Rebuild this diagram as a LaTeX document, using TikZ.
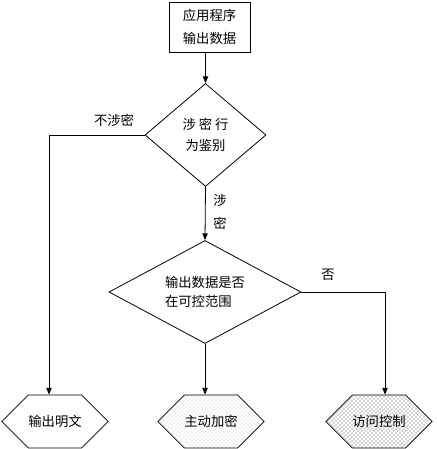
\documentclass[tikz,border=0pt]{standalone}
\usepackage{fontspec}
\setmainfont{Noto Sans CJK SC}
\usetikzlibrary{shapes.geometric,shapes.symbols,patterns,arrows.meta}
\begin{document}
\begin{tikzpicture}[x=0.75pt,y=-0.75pt,
  every node/.style={font=\fontsize{10}{14}\selectfont},
  linie/.style={line width=0.6pt},
  pfeil/.style={linie,-{Triangle[width=4pt,length=5pt]}},
  kasten/.style={draw,linie,minimum width=60.75pt,minimum height=37.5pt,align=center,inner sep=0pt},
  raute/.style={draw,linie,diamond,inner sep=0pt,align=left,minimum height=77.25pt},
  sechseck/.style={draw,linie,signal,signal to=east and west,signal pointer angle=90,
    minimum width=79.5pt,minimum height=39.75pt,inner sep=0pt}]
\useasboundingbox (0,0) rectangle (436,449);

%Knoten
\node[kasten] (prog) at (209.5,27) {应用程序\\[3pt]输出数据};
\node[raute,minimum width=90.75pt,align=center] (d1) at (205.5,135) {涉 密 行\\[2pt]为鉴别};
\node[raute,minimum width=144pt,shape aspect=1.86] (d2) at (205,292) {输出数据是否\\在可控范围};

\node[sechseck] (h1) at (55,421.5) {输出明文};
\node[sechseck,pattern=crosshatch dots,pattern color=gray!45] (h2) at (211,421.5) {主动加密};
\node[sechseck,preaction={pattern=north west lines,pattern color=gray!30},
  pattern=north east lines,pattern color=gray!45] (h3) at (379,421.5) {访问控制};

%Hilfspunkte
\coordinate (links) at (49,135);
\coordinate (rechts) at (385,292);

%Verbindungen
\draw[pfeil] (d1 |- prog.south) -- (d1.north);
\draw[pfeil] (d1.south) -- (d2.north);
\draw[pfeil] (d1.west) -- (links) -- (links |- h1.north);
\draw[pfeil] (d2.south) -- (d2.south |- h2.north);
\draw[pfeil] (d2.east) -- (rechts) -- (rechts |- h3.north);

%Beschriftungen
\node (nein1) at (114,120) {不涉密};
\node (ja1) at (220,200) {涉};
\node (ja2) at (220,223) {密};
\node (nein2) at (328,275) {否};

\end{tikzpicture}
\end{document}
